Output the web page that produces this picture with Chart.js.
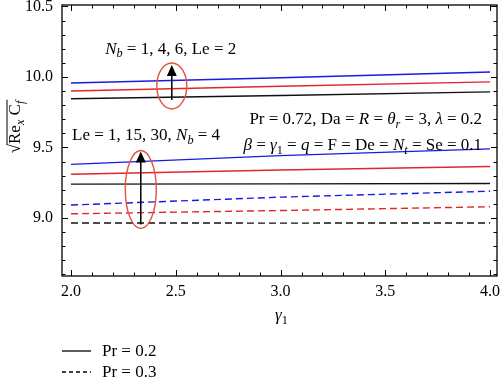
<!DOCTYPE html>
<html><head><meta charset="utf-8">
<script src="https://cdn.jsdelivr.net/npm/chart.js@4"></script>
<style>html,body{margin:0;padding:0;background:#fff}</style>
</head><body><canvas id="c" width="500" height="380"></canvas>
<script>
// ---- data ----
const gammaValues = [2.0, 3.0, 4.0];
// solid (Pr = 0.2), Nb = 1, 4, 6 with Le = 2
const nb1 = [9.845, 9.869, 9.894];
const nb4 = [9.900, 9.934, 9.965];
const nb6 = [9.957, 9.994, 10.035];
// solid (Pr = 0.2), Le = 1, 15, 30 with Nb = 4
const le1 = [9.240, 9.242, 9.245];
const le15 = [9.310, 9.340, 9.365];
const le30 = [9.380, 9.442, 9.490];
// dashed (Pr = 0.3), Le = 1, 15, 30
const le1Pr3 = [8.965, 8.964, 8.965];
const le15Pr3 = [9.030, 9.053, 9.080];
const le30Pr3 = [9.092, 9.148, 9.190];
const xTickLabels = [2.0, 2.5, 3.0, 3.5, 4.0];
const yTickLabels = [9.0, 9.5, 10.0, 10.5];
const legendLabels = ['Pr = 0.2', 'Pr = 0.3'];

const BLACK = '#111111', RED = '#e0262b', BLUE = '#1a1ae0', ELL = '#e5523f';
const FONT = "'Liberation Serif', 'Times New Roman', serif";
const DASH = [7, 4];

function pts(ys) { return gammaValues.map((x, i) => ({ x, y: ys[i] })); }
function ds(ys, color, dashed) {
  return { data: pts(ys), borderColor: color, borderWidth: 1.4, borderDash: dashed ? DASH : [], pointRadius: 0, fill: false, tension: 0 };
}

// rich text: segments {t, it, sub}
function richWidth(ctx, segs, size) {
  let w = 0;
  for (const s of segs) {
    const fs = s.sub ? size * 0.72 : size;
    ctx.font = (s.it ? 'italic ' : '') + fs + 'px ' + FONT;
    w += ctx.measureText(s.t).width;
  }
  return w;
}
function drawRich(ctx, segs, x, y, size, align) {
  let w = richWidth(ctx, segs, size);
  let cx = align === 'right' ? x - w : align === 'center' ? x - w / 2 : x;
  ctx.textBaseline = 'middle';
  ctx.textAlign = 'left';
  for (const s of segs) {
    const fs = s.sub ? size * 0.72 : size;
    ctx.font = (s.it ? 'italic ' : '') + fs + 'px ' + FONT;
    ctx.fillText(s.t, cx, s.sub ? y + size * 0.28 : y);
    cx += ctx.measureText(s.t).width;
  }
  return w;
}

function noPad(s) { s.paddingTop = 0; s.paddingBottom = 0; s.paddingLeft = 0; s.paddingRight = 0; }

const decor = {
  id: 'decor',
  afterDraw(chart) {
    const ctx = chart.ctx, a = chart.chartArea;
    const xs = chart.scales.x, ys = chart.scales.y;
    ctx.save();
    ctx.fillStyle = '#000';
    ctx.strokeStyle = '#000';
    // frame
    ctx.lineWidth = 1.3;
    ctx.strokeRect(a.left, a.top, a.right - a.left, a.bottom - a.top);
    // inward ticks
    ctx.lineWidth = 1;
    ctx.beginPath();
    for (let k = 20; k <= 40; k++) {
      const v = k / 10, px = Math.round(xs.getPixelForValue(v)) + 0.5;
      const L = (k % 5 === 0) ? 6 : 3.5;
      ctx.moveTo(px, a.bottom); ctx.lineTo(px, a.bottom - L);
      ctx.moveTo(px, a.top); ctx.lineTo(px, a.top + L);
    }
    for (let k = 86; k <= 105; k++) {
      const v = k / 10, py = Math.round(ys.getPixelForValue(v)) + 0.5;
      const L = (k % 5 === 0) ? 6 : 3.5;
      ctx.moveTo(a.left, py); ctx.lineTo(a.left + L, py);
      ctx.moveTo(a.right, py); ctx.lineTo(a.right - L, py);
    }
    ctx.stroke();

    // ellipses + arrows
    const ell = (xv, yv, rx, ry) => {
      ctx.save(); ctx.strokeStyle = ELL; ctx.lineWidth = 1.4;
      ctx.beginPath(); ctx.ellipse(xs.getPixelForValue(xv), ys.getPixelForValue(yv), rx, ry, 0, 0, Math.PI * 2); ctx.stroke();
      ctx.restore();
    };
    const arrow = (xv, y0, y1) => {
      const px = xs.getPixelForValue(xv), p0 = ys.getPixelForValue(y0), p1 = ys.getPixelForValue(y1);
      ctx.save(); ctx.strokeStyle = '#000'; ctx.fillStyle = '#000'; ctx.lineWidth = 1.5;
      ctx.beginPath(); ctx.moveTo(px, p0); ctx.lineTo(px, p1 + 8); ctx.stroke();
      ctx.beginPath(); ctx.moveTo(px, p1); ctx.lineTo(px - 5, p1 + 11); ctx.lineTo(px + 5, p1 + 11); ctx.closePath(); ctx.fill();
      ctx.restore();
    };
    ell(2.481, 9.936, 15, 23);
    arrow(2.481, 9.837, 10.085);
    ell(2.333, 9.202, 15.5, 39);
    arrow(2.333, 8.954, 9.472);

    // annotation texts
    ctx.fillStyle = '#000';
    const S = 17;
    drawRich(ctx, [{ t: 'N', it: 1 }, { t: 'b', it: 1, sub: 1 }, { t: ' = 1, 4, 6, Le = 2' }],
      xs.getPixelForValue(2.163), ys.getPixelForValue(10.195), S, 'left');
    drawRich(ctx, [{ t: 'Le = 1, 15, 30, ' }, { t: 'N', it: 1 }, { t: 'b', it: 1, sub: 1 }, { t: ' = 4' }],
      xs.getPixelForValue(2.005), ys.getPixelForValue(9.583), S, 'left');
    drawRich(ctx, [{ t: 'Pr = 0.72, Da = ' }, { t: 'R', it: 1 }, { t: ' = ' }, { t: 'θ', it: 1 }, { t: 'r', it: 1, sub: 1 }, { t: ' = 3, ' }, { t: 'λ', it: 1 }, { t: ' = 0.2' }],
      xs.getPixelForValue(3.962), ys.getPixelForValue(9.695), S, 'right');
    drawRich(ctx, [{ t: 'β', it: 1 }, { t: ' = ' }, { t: 'γ', it: 1 }, { t: '1', sub: 1 }, { t: ' = ' }, { t: 'q', it: 1 }, { t: ' = F = De = ' }, { t: 'N', it: 1 }, { t: 't', it: 1, sub: 1 }, { t: ' = Se = 0.1' }],
      xs.getPixelForValue(3.962), ys.getPixelForValue(9.513), S, 'right');

    // x-axis title
    drawRich(ctx, [{ t: 'γ', it: 1 }, { t: '1', sub: 1 }], (a.left + a.right) / 2 + 2, 316, 17, 'center');

    // y-axis title (rotated)
    ctx.save();
    ctx.translate(16, 127);
    ctx.rotate(-Math.PI / 2);
    const segs = [{ t: 'Re' }, { t: 'x', it: 1, sub: 1 }, { t: ' C' }, { t: 'f', it: 1, sub: 1 }];
    ctx.font = '17px ' + FONT;
    const rw = ctx.measureText('√').width;
    const tw = richWidth(ctx, segs, 17);
    const x0 = -(rw + tw) / 2;
    ctx.font = '17px ' + FONT; ctx.textBaseline = 'middle'; ctx.textAlign = 'left';
    ctx.fillText('√', x0, 0);
    drawRich(ctx, segs, x0 + rw, 0, 17, 'left');
    ctx.lineWidth = 1;
    ctx.beginPath(); ctx.moveTo(x0 + rw - 0.5, -9); ctx.lineTo(x0 + rw + tw + 1, -9); ctx.stroke();
    ctx.restore();

    // custom legend
    const lg = [{ y: 351, dash: [] }, { y: 372, dash: [4, 3] }];
    lg.forEach((e, i) => {
      ctx.save(); ctx.strokeStyle = '#000'; ctx.lineWidth = 1.3; ctx.setLineDash(e.dash);
      ctx.beginPath(); ctx.moveTo(62, e.y); ctx.lineTo(91, e.y); ctx.stroke(); ctx.restore();
      ctx.font = '17px ' + FONT; ctx.textBaseline = 'middle'; ctx.textAlign = 'left';
      ctx.fillText(legendLabels[i], 102, e.y + 1);
    });
    ctx.restore();
  }
};

new Chart(document.getElementById('c'), {
  type: 'line',
  data: {
    datasets: [
      ds(nb1, BLACK), ds(nb4, RED), ds(nb6, BLUE),
      ds(le1, BLACK), ds(le15, RED), ds(le30, BLUE),
      ds(le1Pr3, BLACK, true), ds(le15Pr3, RED, true), ds(le30Pr3, BLUE, true)
    ]
  },
  options: {
    responsive: false, animation: false, devicePixelRatio: 1,
    layout: { padding: { top: 5, right: 3, left: 0, bottom: 0 } },
    plugins: { legend: { display: false }, tooltip: { enabled: false } },
    scales: {
      x: {
        type: 'linear', min: 1.957, max: 4.033,
        afterFit(s) { s.height = 104; noPad(s); },
        afterBuildTicks(s) { s.ticks = xTickLabels.map(v => ({ value: v })); },
        grid: { display: false, drawTicks: false }, border: { display: false },
        ticks: { padding: 6, color: '#000', font: { family: FONT, size: 16 }, maxRotation: 0, autoSkip: false, callback: v => v.toFixed(1) }
      },
      y: {
        type: 'linear', min: 8.589, max: 10.51,
        afterFit(s) { s.width = 62; noPad(s); },
        afterBuildTicks(s) { s.ticks = yTickLabels.map(v => ({ value: v })); },
        grid: { display: false, drawTicks: false }, border: { display: false },
        ticks: { padding: 9, color: '#000', font: { family: FONT, size: 16 }, autoSkip: false, callback: v => v.toFixed(1) }
      }
    }
  },
  plugins: [decor]
});
</script>
</body></html>
